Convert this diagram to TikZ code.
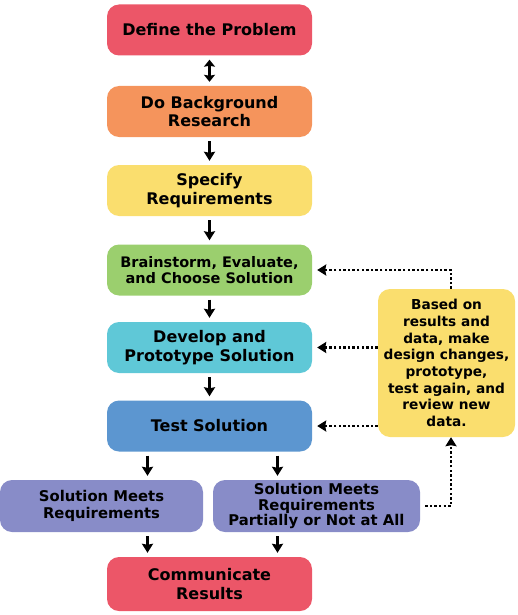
\documentclass[tikz,border=0pt]{standalone}
\usepackage{fontspec}
\setmainfont{DejaVu Sans}
\usetikzlibrary{arrows.meta,calc}
\definecolor{cred}{RGB}{236,86,104}
\definecolor{corange}{RGB}{245,148,92}
\definecolor{cyellow}{RGB}{250,222,110}
\definecolor{cgreen}{RGB}{155,207,110}
\definecolor{ccyan}{RGB}{95,200,215}
\definecolor{cblue}{RGB}{92,150,208}
\definecolor{cpurple}{RGB}{136,140,200}
\tikzset{
  box/.style={rounded corners=12pt, minimum width=205pt, minimum height=51pt, align=center,
    font=\bfseries\fontsize{16}{18.5}\selectfont, inner sep=1pt},
  sbox/.style={rounded corners=12pt, minimum width=205pt, minimum height=52pt, align=center,
    font=\bfseries\fontsize{14.8}{15.5}\selectfont, inner sep=1pt},
  arr/.style={line width=2.6pt, -{Stealth[length=9pt,width=11pt,inset=1pt]}, shorten >=4pt, shorten <=4pt},
  darr/.style={line width=2.6pt, {Stealth[length=7pt,width=11pt,inset=1pt]}-{Stealth[length=7pt,width=11pt,inset=1pt]}, shorten >=4pt, shorten <=4pt},
  dotarr/.style={line width=2.4pt, dash pattern=on 2.4pt off 2.2pt, -{Stealth[length=9pt,width=11pt,inset=1pt]}},
}
\begin{document}
\begin{tikzpicture}[x=1pt,y=-1pt]
\useasboundingbox (0,0) rectangle (518,615);
\node[box, fill=cred] (def) at (209.5,30) {Define the Problem};
\node[box, fill=corange] (bg) at (209.5,111.5) {Do Background\\Research};
\node[box, fill=cyellow] (spec) at (209.5,190.5) {Specify\\Requirements};
\node[box, fill=cgreen, font=\bfseries\fontsize{14.5}{16}\selectfont] (brain) at (209.5,270) {Brainstorm, Evaluate,\\and Choose Solution};
\node[box, fill=ccyan] (dev) at (209.5,347.5) {Develop and\\Prototype Solution};
\node[box, fill=cblue] (test) at (209.5,426) {Test Solution};
\node[sbox, fill=cpurple, minimum width=203pt, font=\bfseries\fontsize{14.8}{17.5}\selectfont] (sm) at (101.5,506) {Solution Meets\\Requirements};
\node[sbox, fill=cpurple, minimum width=207pt] (part) at (316.5,506) {Solution Meets\\Requirements\\Partially or Not at All};
\node[box, fill=cred, minimum height=54pt] (comm) at (209.5,584) {Communicate\\Results};
\node[rounded corners=12pt, fill=cyellow, minimum width=137pt, minimum height=148pt, align=center,
  font=\bfseries\fontsize{13.7}{16.7}\selectfont, inner sep=1pt] (fb) at (446.5,363)
  {Based on\\results and\\data, make\\design changes,\\prototype,\\test again, and\\review new\\data.};
\draw[darr] (def) -- (bg);
\draw[arr] (bg) -- (spec);
\draw[arr] (spec) -- (brain);
\draw[arr] (brain) -- (dev);
\draw[arr] (dev) -- (test);
\draw[arr] ([xshift=-62pt]test.south) -- ([xshift=-62pt]test.south |- sm.north);
\draw[arr] ([xshift=68pt]test.south) -- ([xshift=68pt]test.south |- part.north);
\draw[arr] ([xshift=-62pt]test.south |- sm.south) -- ([xshift=-62pt]comm.north);
\draw[arr] ([xshift=68pt]test.south |- part.south) -- ([xshift=68pt]comm.north);
\draw[dotarr, shorten >=5pt] ([xshift=4.5pt]fb.north) |- (brain.east);
\draw[dotarr, shorten >=5pt] (fb.west |- dev.east) -- (dev.east);
\draw[dotarr, shorten >=5pt] (fb.west |- test.east) -- (test.east);
\draw[dotarr, shorten <=5pt] (part.east) -| ([xshift=4.5pt]fb.south);
\end{tikzpicture}
\end{document}
